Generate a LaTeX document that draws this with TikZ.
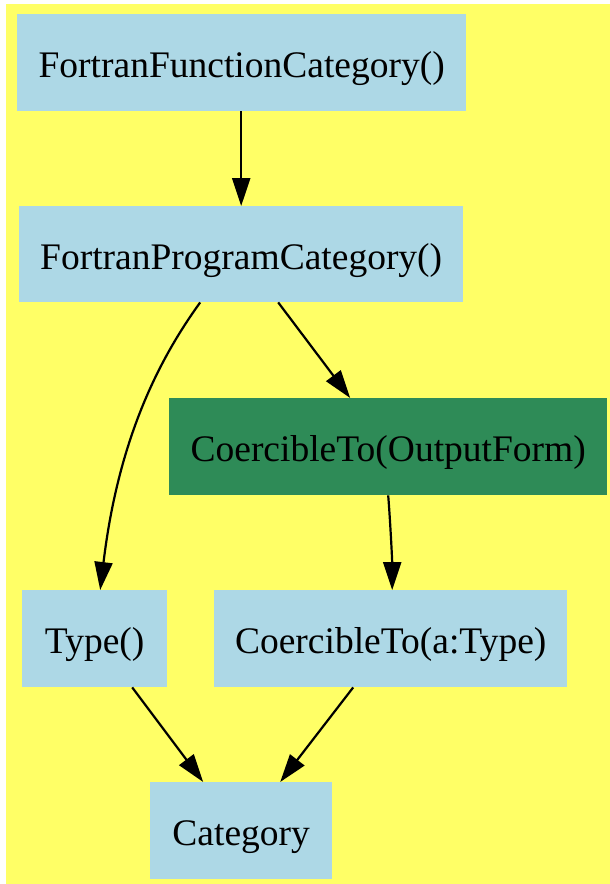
\documentclass[tikz,border=0pt]{standalone}
\usepackage{fontspec}
\setmainfont{Liberation Serif}
\usetikzlibrary{arrows.meta}
\definecolor{bgyellow}{HTML}{FFFF66}
\definecolor{nodeblue}{HTML}{ADD8E6}
\definecolor{nodegreen}{HTML}{2E8B57}
\newcommand{\lowtext}[1]{\raisebox{-6pt}[\height][\depth]{#1}}
\begin{document}
\begin{tikzpicture}[x=1pt,y=-1pt,
  box/.style={fill=nodeblue, draw=none, inner sep=0pt, anchor=north west,
    font=\fontsize{37.5}{44}\selectfont, text=black},
  edge/.style={draw=black, line width=2.2pt, -{Triangle[length=28pt,width=18pt]}}]
\useasboundingbox (0,0) rectangle (610,884);
\fill[bgyellow] (6,4) rectangle (610,884);
\node[box, minimum width=449pt, minimum height=97pt] (ffc) at (17,14) {\lowtext{FortranFunctionCategory()}};
\node[box, minimum width=444pt, minimum height=96pt] (fpc) at (19,206) {\lowtext{FortranProgramCategory()}};
\node[box, fill=nodegreen, minimum width=438pt, minimum height=97pt] (cto) at (169,398) {\lowtext{CoercibleTo(OutputForm)}};
\node[box, minimum width=145pt, minimum height=97pt] (type) at (22,590) {\lowtext{Type()}};
\node[box, minimum width=353pt, minimum height=97pt] (cta) at (214,590) {\lowtext{CoercibleTo(a:Type)}};
\node[box, minimum width=182pt, minimum height=97pt] (cat) at (150,782) {\lowtext{Category}};
\draw[edge] (fpc.north |- ffc.south) -- (fpc.north);
\draw[edge] ([xshift=-41pt]fpc.south) .. controls +(-42,58) and +(18,-150) .. ([xshift=5.5pt]type.north);
\draw[edge] ([xshift=37pt]fpc.south) -- ([xshift=-38pt]cto.north);
\draw[edge] (cto.south) .. controls +(2,25) and +(0,-30) .. ([xshift=1.5pt]cta.north);
\draw[edge] ([xshift=37.5pt]type.south) -- ([xshift=-38pt]cat.north);
\draw[edge] ([xshift=-37.5pt]cta.south) -- ([xshift=39pt]cat.north);
\end{tikzpicture}
\end{document}
